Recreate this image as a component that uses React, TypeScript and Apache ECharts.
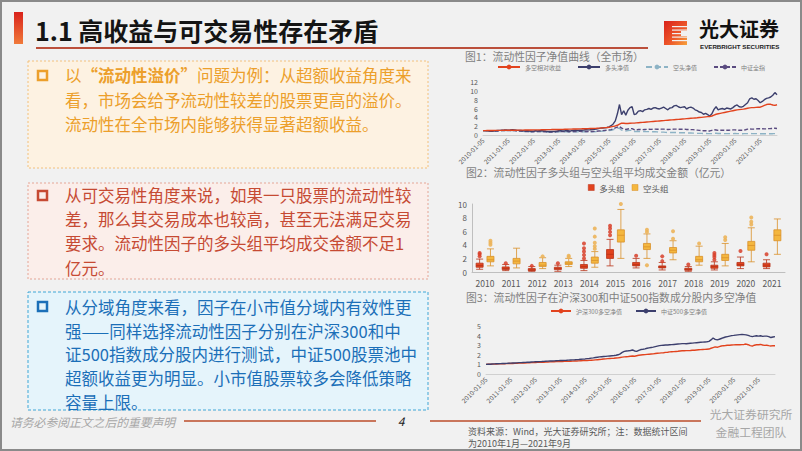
import React, { useEffect, useRef } from 'react';
import * as echarts from 'echarts';

const FONT = '"Noto Sans CJK SC", "Noto Sans", sans-serif';

// ---------- categories ----------
const dates: string[] = [];
for (let y = 2010; y <= 2021; y++) {
  for (let m = 1; m <= 12; m++) {
    if (y === 2021 && m > 9) break;
    dates.push(`${y}-${String(m).padStart(2, '0')}-05`);
  }
}
const boxYears = ['2010', '2011', '2012', '2013', '2014', '2015', '2016', '2017', '2018', '2019', '2020', '2021'];

// ---------- chart 1: 全市场 (monthly) ----------
const longShortRel = [
  1.00, 1.00, 1.01, 1.02, 1.03, 1.03, 1.04, 1.04, 1.05, 1.05, 1.06, 1.06,
  1.07, 1.07, 1.08, 1.08, 1.09, 1.10, 1.10, 1.11, 1.12, 1.12, 1.13, 1.14,
  1.15, 1.15, 1.16, 1.17, 1.18, 1.19, 1.20, 1.21, 1.22, 1.23, 1.24, 1.25,
  1.26, 1.27, 1.28, 1.30, 1.31, 1.32, 1.33, 1.35, 1.36, 1.37, 1.39, 1.40,
  1.42, 1.43, 1.45, 1.47, 1.48, 1.50, 1.52, 1.55, 1.58, 1.62, 1.66, 1.70,
  1.75, 1.85, 1.95, 2.05, 2.20, 2.45, 2.70, 2.65, 2.60, 2.62, 2.65, 2.68,
  2.70, 2.74, 2.78, 2.82, 2.86, 2.90, 2.94, 2.98, 3.02, 3.06, 3.10, 3.14,
  3.18, 3.22, 3.26, 3.30, 3.34, 3.38, 3.42, 3.46, 3.50, 3.54, 3.58, 3.62,
  3.66, 3.70, 3.74, 3.78, 3.82, 3.86, 3.90, 3.95, 4.00, 4.05, 4.10, 4.15,
  4.20, 4.30, 4.50, 4.70, 4.80, 4.90, 5.00, 5.10, 5.20, 5.30, 5.40, 5.50,
  5.60, 5.70, 5.75, 5.80, 5.85, 5.95, 6.05, 6.15, 6.20, 6.20, 6.25, 6.30,
  6.30, 6.50, 6.70, 6.90, 7.00, 6.95, 6.80, 6.70, 6.85,
];
const longNav = [
  1.00, 0.98, 0.95, 0.90, 0.88, 0.92, 0.98, 1.02, 1.05, 1.10, 1.12, 1.15,
  1.10, 1.12, 1.18, 1.15, 1.08, 1.05, 1.02, 0.98, 0.92, 0.95, 0.90, 0.85,
  0.88, 0.95, 0.90, 0.95, 0.98, 0.92, 0.85, 0.80, 0.82, 0.80, 0.78, 0.88,
  0.95, 0.98, 0.92, 0.95, 1.02, 0.90, 0.95, 1.02, 1.08, 1.05, 1.10, 1.08,
  1.12, 1.20, 1.15, 1.18, 1.22, 1.28, 1.35, 1.45, 1.55, 1.60, 1.65, 1.70,
  1.85, 2.10, 2.50, 3.20, 4.80, 6.90, 4.60, 5.50, 4.50, 5.60, 6.20, 6.40,
  4.60, 4.80, 5.40, 5.50, 5.30, 5.70, 5.80, 6.00, 5.80, 6.10, 6.20, 6.00,
  5.90, 6.10, 6.30, 6.00, 5.70, 6.10, 6.20, 6.60, 6.70, 6.40, 6.20, 6.30,
  6.40, 5.90, 6.20, 6.30, 6.10, 5.70, 5.50, 5.20, 5.10, 4.70, 4.90, 4.60,
  4.30, 4.80, 5.80, 6.40, 5.70, 5.90, 6.00, 5.80, 6.10, 6.00, 5.90, 6.20,
  6.60, 6.80, 6.40, 6.30, 6.50, 6.90, 7.30, 8.20, 8.40, 8.10, 8.20, 7.80,
  7.30, 7.60, 8.00, 8.30, 8.40, 8.60, 9.00, 9.60, 9.10,
];
const shortNav = [
  0.98, 0.96, 0.92, 0.88, 0.85, 0.86, 0.90, 0.92, 0.94, 0.98, 1.00, 1.02,
  1.00, 1.02, 1.05, 1.02, 0.96, 0.92, 0.90, 0.86, 0.80, 0.82, 0.78, 0.74,
  0.76, 0.80, 0.76, 0.78, 0.80, 0.74, 0.68, 0.64, 0.64, 0.62, 0.60, 0.68,
  0.72, 0.74, 0.70, 0.70, 0.75, 0.66, 0.68, 0.72, 0.75, 0.72, 0.74, 0.72,
  0.72, 0.76, 0.72, 0.72, 0.74, 0.75, 0.78, 0.82, 0.86, 0.88, 0.92, 0.95,
  1.00, 1.08, 1.20, 1.38, 1.50, 1.55, 1.10, 1.05, 0.90, 1.00, 1.05, 1.05,
  0.80, 0.78, 0.82, 0.80, 0.78, 0.78, 0.76, 0.76, 0.74, 0.74, 0.72, 0.70,
  0.66, 0.66, 0.64, 0.60, 0.56, 0.56, 0.55, 0.56, 0.55, 0.52, 0.50, 0.50,
  0.50, 0.46, 0.46, 0.45, 0.43, 0.40, 0.38, 0.37, 0.36, 0.34, 0.34, 0.32,
  0.30, 0.33, 0.38, 0.38, 0.34, 0.33, 0.33, 0.32, 0.32, 0.31, 0.31, 0.32,
  0.33, 0.32, 0.30, 0.30, 0.30, 0.31, 0.32, 0.33, 0.32, 0.31, 0.31, 0.30,
  0.30, 0.30, 0.29, 0.29, 0.30, 0.30, 0.30, 0.31, 0.30,
];
const csiAll = [
  1.00, 0.98, 0.98, 0.90, 0.85, 0.82, 0.88, 0.92, 0.94, 1.02, 1.00, 1.00,
  0.98, 1.02, 1.02, 0.98, 0.92, 0.92, 0.90, 0.86, 0.78, 0.80, 0.78, 0.72,
  0.74, 0.80, 0.76, 0.78, 0.78, 0.74, 0.70, 0.67, 0.68, 0.68, 0.68, 0.76,
  0.80, 0.80, 0.76, 0.76, 0.82, 0.74, 0.76, 0.80, 0.82, 0.80, 0.82, 0.80,
  0.78, 0.80, 0.78, 0.78, 0.80, 0.82, 0.86, 0.90, 0.94, 0.98, 1.04, 1.10,
  1.15, 1.22, 1.40, 1.60, 1.80, 1.95, 1.55, 1.40, 1.25, 1.35, 1.45, 1.45,
  1.20, 1.15, 1.25, 1.25, 1.22, 1.25, 1.28, 1.30, 1.28, 1.32, 1.32, 1.30,
  1.30, 1.32, 1.32, 1.28, 1.24, 1.28, 1.28, 1.32, 1.34, 1.32, 1.30, 1.30,
  1.32, 1.26, 1.26, 1.22, 1.22, 1.14, 1.10, 1.04, 1.02, 0.96, 0.98, 0.92,
  0.92, 1.05, 1.18, 1.14, 1.06, 1.08, 1.08, 1.06, 1.08, 1.08, 1.10, 1.15,
  1.16, 1.10, 1.06, 1.08, 1.10, 1.20, 1.32, 1.36, 1.32, 1.34, 1.38, 1.42,
  1.40, 1.40, 1.38, 1.40, 1.44, 1.46, 1.50, 1.52, 1.48,
];

// ---------- chart 2: 成交金额 boxplots [min, Q1, median, Q3, max] ----------
const longBox = [
  [0.4, 0.7, 0.95, 1.3, 1.9],
  [0.2, 0.35, 0.5, 0.75, 1.1],
  [0.1, 0.2, 0.3, 0.5, 0.8],
  [0.1, 0.35, 0.5, 0.7, 1.0],
  [0.2, 0.55, 0.8, 1.1, 1.7],
  [0.9, 2.0, 2.6, 3.3, 4.8],
  [0.6, 0.9, 1.1, 1.4, 2.0],
  [0.3, 0.6, 0.75, 0.9, 1.4],
  [0.1, 0.25, 0.4, 0.55, 0.8],
  [0.3, 0.55, 0.8, 1.0, 1.5],
  [0.5, 0.9, 1.1, 1.4, 2.2],
  [0.5, 0.75, 1.0, 1.3, 1.8],
];
const shortBox = [
  [0.9, 1.5, 1.8, 2.3, 3.4],
  [0.6, 1.2, 1.6, 2.0, 3.5],
  [0.5, 0.8, 1.0, 1.4, 2.1],
  [0.8, 1.1, 1.3, 1.5, 2.0],
  [0.7, 1.3, 1.7, 2.2, 3.0],
  [2.0, 4.4, 5.4, 6.2, 9.2],
  [2.0, 3.3, 3.7, 4.2, 5.6],
  [1.8, 2.8, 3.2, 3.6, 4.6],
  [1.0, 1.5, 1.8, 2.3, 3.8],
  [0.9, 1.7, 2.1, 2.6, 4.2],
  [1.5, 3.2, 3.9, 4.5, 6.5],
  [2.6, 4.6, 5.4, 6.2, 7.8],
];
const longOutliers = [
  [0, 2.3], [0, 2.6], [0, 2.8], [1, 1.3], [2, 0.9], [3, 1.3],
  [4, 2.0], [4, 2.5], [4, 3.0], [4, 3.5], [4, 4.2],
  [5, 5.4], [5, 5.9], [5, 6.4], [5, 6.8], [6, 2.4], [7, 1.6], [7, 2.3],
  [8, 1.1], [9, 1.8], [9, 2.2], [9, 2.5], [9, 2.8], [10, 3.1], [11, 2.6],
];
const shortOutliers = [
  [0, 4.0], [0, 4.3], [0, 4.6], [2, 2.3], [3, 2.2], [3, 2.4],
  [4, 3.4], [4, 3.8], [4, 4.3], [4, 5.2], [4, 6.4], [5, 10.0],
  [6, 1.0], [6, 5.9], [6, 6.2], [7, 4.9], [7, 6.0], [8, 4.2],
  [9, 4.7], [9, 5.1], [10, 7.0], [10, 7.4], [10, 8.0],
];

// ---------- chart 3: 沪深300 / 中证500 (monthly) ----------
const hs300 = [
  1.00, 1.01, 1.02, 1.03, 1.03, 1.04, 1.05, 1.06, 1.06, 1.07, 1.08, 1.09,
  1.10, 1.10, 1.11, 1.12, 1.13, 1.13, 1.14, 1.15, 1.16, 1.17, 1.18, 1.19,
  1.20, 1.21, 1.21, 1.22, 1.23, 1.24, 1.25, 1.26, 1.27, 1.28, 1.29, 1.29,
  1.30, 1.30, 1.31, 1.32, 1.32, 1.33, 1.34, 1.35, 1.36, 1.37, 1.38, 1.39,
  1.40, 1.41, 1.42, 1.44, 1.45, 1.47, 1.49, 1.51, 1.53, 1.56, 1.58, 1.60,
  1.62, 1.63, 1.64, 1.66, 1.68, 1.72, 1.76, 1.78, 1.80, 1.82, 1.85, 1.88,
  1.85, 1.90, 1.95, 1.98, 2.00, 2.02, 2.04, 2.06, 2.08, 2.10, 2.13, 2.16,
  2.18, 2.20, 2.22, 2.25, 2.27, 2.30, 2.32, 2.33, 2.35, 2.37, 2.40, 2.42,
  2.42, 2.43, 2.44, 2.45, 2.47, 2.48, 2.50, 2.52, 2.54, 2.55, 2.56, 2.58,
  2.60, 2.68, 2.75, 2.82, 2.78, 2.85, 2.92, 2.95, 2.97, 3.00, 3.00, 3.02,
  3.03, 3.04, 3.05, 3.05, 3.06, 3.08, 3.12, 3.05, 2.95, 2.90, 3.00, 3.05,
  3.05, 3.08, 3.02, 2.98, 3.00, 2.95, 2.92, 2.95, 2.95,
];
const csi500 = [
  1.00, 1.01, 1.02, 1.04, 1.05, 1.06, 1.07, 1.08, 1.09, 1.10, 1.11, 1.12,
  1.13, 1.14, 1.15, 1.16, 1.18, 1.19, 1.20, 1.21, 1.22, 1.23, 1.25, 1.26,
  1.27, 1.28, 1.29, 1.30, 1.32, 1.33, 1.34, 1.35, 1.36, 1.37, 1.38, 1.39,
  1.40, 1.41, 1.42, 1.43, 1.45, 1.46, 1.47, 1.48, 1.50, 1.51, 1.53, 1.55,
  1.57, 1.60, 1.62, 1.65, 1.68, 1.72, 1.75, 1.78, 1.80, 1.82, 1.84, 1.86,
  1.88, 1.90, 1.92, 1.95, 2.00, 2.10, 2.25, 2.35, 2.40, 2.42, 2.45, 2.50,
  2.40, 2.35, 2.45, 2.55, 2.58, 2.62, 2.68, 2.72, 2.76, 2.80, 2.85, 2.90,
  2.95, 2.98, 3.00, 3.02, 3.02, 3.04, 3.06, 3.08, 3.10, 3.12, 3.14, 3.16,
  3.16, 3.15, 3.18, 3.20, 3.22, 3.24, 3.26, 3.28, 3.30, 3.32, 3.34, 3.36,
  3.40, 3.55, 3.75, 3.60, 3.55, 3.62, 3.70, 3.78, 3.85, 3.90, 3.95, 4.00,
  4.02, 4.05, 4.08, 4.10, 4.12, 4.10, 4.08, 4.02, 3.95, 3.90, 3.95, 3.98,
  3.95, 3.98, 3.92, 3.95, 3.95, 3.90, 3.80, 3.85, 3.90,
];

// ---------- slide texts ----------
const slideTitle = '1.1 高收益与可交易性存在矛盾';
const box1Lines = [
  '以{b|“流动性溢价”}问题为例：从超额收益角度来',
  '看，市场会给予流动性较差的股票更高的溢价。',
  '流动性在全市场内能够获得显著超额收益。',
];
const box2Lines = [
  '从可交易性角度来说，如果一只股票的流动性较',
  '差，那么其交易成本也较高，甚至无法满足交易',
  '要求。流动性因子的多头组平均成交金额不足1',
  '亿元。',
];
const box3Lines = [
  '从分域角度来看，因子在小市值分域内有效性更',
  '强——同样选择流动性因子分别在沪深300和中',
  '证500指数成分股内进行测试，中证500股票池中',
  '超额收益更为明显。小市值股票较多会降低策略',
  '容量上限。',
];

const RED = '#e2431e';
const NAVY = '#3c3f6d';

function lineTexts(lines: string[], x: number, y0: number, dy: number, color: string) {
  return lines.map((t, i) => ({
    type: 'text',
    x,
    y: y0 + i * dy,
    style: {
      text: t,
      fill: color,
      fontSize: 16.5,
      lineHeight: 18,
      fontFamily: FONT,
      verticalAlign: 'middle',
      rich: { b: { fill: color, fontSize: 16.5, lineHeight: 18, fontFamily: FONT, fontWeight: 'bold' } },
    },
  }));
}

function dateAxis(gridIndex: number) {
  return {
    type: 'category',
    gridIndex,
    data: dates,
    boundaryGap: false,
    axisLine: { lineStyle: { color: '#d0d0d0' } },
    axisTick: { show: false },
    axisLabel: {
      rotate: 45,
      fontSize: 6.5,
      color: '#595959',
      fontFamily: FONT,
      margin: 4,
      interval: (idx: number) => idx % 12 === 0,
    },
    splitLine: { show: false },
  };
}

function valueAxis(gridIndex: number, max: number, interval: number, fs: number, showLine: boolean) {
  return {
    type: 'value',
    gridIndex,
    min: 0,
    max,
    interval,
    axisLine: { show: showLine, lineStyle: { color: '#bfbfbf' } },
    axisTick: { show: false },
    axisLabel: { fontSize: fs, color: '#595959', fontFamily: FONT, margin: 5 },
    splitLine: { show: false },
  };
}

export default function App() {
  const ref = useRef<HTMLDivElement>(null);
  useEffect(() => {
    if (!ref.current) return;
    const chart = echarts.init(ref.current, null, { renderer: 'svg' });

    const titleStyle = { fontSize: 10.8, lineHeight: 12, color: '#7f7f7f', fontWeight: 'normal', fontFamily: FONT };
    const legendText = { fontSize: 6, color: '#7f7f7f', fontFamily: FONT };

    const logoStripes = [26, 29.5, 33, 36.5, 40].map((yy) => ({
      type: 'rect',
      shape: { x: 672, y: yy, width: 16, height: 1.2 },
      style: { fill: '#f1f1f1' },
      z: 11,
    }));

    const option: any = {
      animation: false,
      backgroundColor: '#f1f1f1',
      textStyle: { fontFamily: FONT },
      title: [
        { text: '图1：流动性因子净值曲线（全市场）', left: 465, top: 50, padding: 0, textStyle: titleStyle },
        { text: '图2：流动性因子多头组与空头组平均成交金额（亿元）', left: 466, top: 166, padding: 0, textStyle: titleStyle },
        { text: '图3：流动性因子在沪深300和中证500指数成分股内多空净值', left: 466, top: 291, padding: 0, textStyle: titleStyle },
      ],
      legend: [
        {
          data: ['多空相对收益', '多头净值', '空头净值', '中证全指'],
          left: 497, top: 64, padding: 0, itemWidth: 22, itemHeight: 6, itemGap: 16,
          textStyle: legendText,
        },
        {
          data: [
            { name: '多头组', itemStyle: { color: RED, borderColor: '#b83218', borderWidth: 0.5 } },
            { name: '空头组', itemStyle: { color: '#f4b73f', borderColor: '#d9902a', borderWidth: 0.5 } },
          ],
          icon: 'rect',
          left: 588, top: 183, padding: 0, itemWidth: 6, itemHeight: 6, itemGap: 7,
          textStyle: { fontSize: 8.5, lineHeight: 9, color: '#595959', fontFamily: FONT },
        },
        {
          data: ['沪深300多空净值', '中证500多空净值'],
          left: 550, top: 308, padding: 0, itemWidth: 20, itemHeight: 6, itemGap: 13,
          textStyle: legendText,
        },
      ],
      grid: [
        { left: 483, right: 25, top: 82, height: 53 },
        { left: 472, right: 17, top: 204, height: 68 },
        { left: 486, right: 27, top: 326, height: 48 },
      ],
      xAxis: [
        dateAxis(0),
        {
          type: 'category',
          gridIndex: 1,
          data: boxYears,
          axisLine: { lineStyle: { color: '#bfbfbf' } },
          axisTick: { show: false },
          axisLabel: { fontSize: 8.5, color: '#595959', fontFamily: FONT, margin: 7 },
        },
        dateAxis(2),
      ],
      yAxis: [
        valueAxis(0, 12, 2, 7, false),
        valueAxis(1, 10, 2, 8, true),
        valueAxis(2, 5, 1, 7, false),
      ],
      series: [
        { name: '多空相对收益', type: 'line', xAxisIndex: 0, yAxisIndex: 0, data: longShortRel, symbol: 'none', lineStyle: { color: RED, width: 1.4 }, itemStyle: { color: RED }, z: 4 },
        { name: '多头净值', type: 'line', xAxisIndex: 0, yAxisIndex: 0, data: longNav, symbol: 'none', lineStyle: { color: NAVY, width: 1.4 }, itemStyle: { color: NAVY }, z: 3 },
        { name: '空头净值', type: 'line', xAxisIndex: 0, yAxisIndex: 0, data: shortNav, symbol: 'none', lineStyle: { color: '#8db3c5', width: 1.4, type: [6, 3] }, itemStyle: { color: '#8db3c5' }, z: 2 },
        { name: '中证全指', type: 'line', xAxisIndex: 0, yAxisIndex: 0, data: csiAll, symbol: 'none', lineStyle: { color: '#5a4b80', width: 1.4, type: [4, 2] }, itemStyle: { color: '#5a4b80' }, z: 2 },
        {
          name: '多头组', type: 'boxplot', xAxisIndex: 1, yAxisIndex: 1, data: longBox, boxWidth: [6, 7],
          itemStyle: { color: RED, borderColor: '#b83218', borderWidth: 0.8 },
        },
        {
          name: '空头组', type: 'boxplot', xAxisIndex: 1, yAxisIndex: 1, data: shortBox, boxWidth: [6, 7],
          itemStyle: { color: '#f4b73f', borderColor: '#d9902a', borderWidth: 0.8 },
        },
        {
          name: '多头组异常值', type: 'scatter', xAxisIndex: 1, yAxisIndex: 1, data: longOutliers,
          symbolSize: 4, symbolOffset: [-5.4, 0], itemStyle: { color: '#d8402a', opacity: 0.85 },
        },
        {
          name: '空头组异常值', type: 'scatter', xAxisIndex: 1, yAxisIndex: 1, data: shortOutliers,
          symbolSize: 4, symbolOffset: [5.4, 0], itemStyle: { color: '#ecb45a', opacity: 0.9 },
        },
        { name: '沪深300多空净值', type: 'line', xAxisIndex: 2, yAxisIndex: 2, data: hs300, symbol: 'none', lineStyle: { color: RED, width: 1.4 }, itemStyle: { color: RED } },
        { name: '中证500多空净值', type: 'line', xAxisIndex: 2, yAxisIndex: 2, data: csi500, symbol: 'none', lineStyle: { color: NAVY, width: 1.4 }, itemStyle: { color: NAVY } },
      ],
      graphic: [
        // frame
        { type: 'rect', shape: { x: 1, y: 1, width: 800, height: 449 }, style: { fill: 'none', stroke: '#8a8a8a', lineWidth: 2 }, z: 20 },
        // title bar
        {
          type: 'rect', shape: { x: 14, y: 12, width: 9, height: 32 },
          style: { fill: new echarts.graphic.LinearGradient(0, 0, 0, 1, [{ offset: 0, color: '#d9221b' }, { offset: 1, color: '#f07a3a' }]) },
        },
        { type: 'text', x: 35, y: 30, style: { text: slideTitle, fill: '#141414', fontSize: 25, fontWeight: 'bold', fontFamily: FONT, verticalAlign: 'middle' } },
        { type: 'line', shape: { x1: 36, y1: 48, x2: 648, y2: 48 }, style: { stroke: '#bb4f3b', lineWidth: 2 } },
        // logo
        {
          type: 'rect', shape: { x: 664, y: 21, width: 23, height: 24 },
          style: { fill: new echarts.graphic.LinearGradient(0, 0, 1, 1, [{ offset: 0, color: '#d9221b' }, { offset: 0.6, color: '#ee5a2a' }, { offset: 1, color: '#f7a23a' }]) },
          z: 10,
        },
        ...logoStripes,
        { type: 'rect', shape: { x: 681, y: 31, width: 7, height: 5 }, style: { fill: '#f1f1f1' }, z: 11 },
        { type: 'text', x: 699, y: 28, style: { text: '光大证券', fill: '#111', fontSize: 20, lineHeight: 20, fontWeight: 'bold', fontFamily: FONT, verticalAlign: 'middle' } },
        { type: 'text', x: 700, y: 46, style: { text: 'EVERBRIGHT SECURITIES', fill: '#222', fontSize: 6.2, lineHeight: 7, fontWeight: 'bold', fontFamily: '"Liberation Sans", Arial, sans-serif', verticalAlign: 'middle' } },
        // box 1
        { type: 'rect', shape: { x: 28, y: 61, width: 400, height: 107 }, style: { fill: '#fdf2e2', stroke: '#f2c07c', lineWidth: 1, lineDash: [2, 2] } },
        { type: 'rect', shape: { x: 38, y: 71, width: 9, height: 9 }, style: { fill: 'none', stroke: '#ec9f2b', lineWidth: 2.5 } },
        ...lineTexts(box1Lines, 65, 75, 24.5, '#ec9f2b'),
        // box 2
        { type: 'rect', shape: { x: 28, y: 183, width: 400, height: 96 }, style: { fill: '#fbeeea', stroke: '#e4a596', lineWidth: 1, lineDash: [2, 2] } },
        { type: 'rect', shape: { x: 38, y: 191, width: 9, height: 9 }, style: { fill: 'none', stroke: '#c64a33', lineWidth: 2.5 } },
        ...lineTexts(box2Lines, 65, 195, 24.2, '#c64a33'),
        // box 3
        { type: 'rect', shape: { x: 28, y: 292, width: 400, height: 118 }, style: { fill: '#e5f4fb', stroke: '#3fa6d6', lineWidth: 1, lineDash: [3, 2] } },
        { type: 'rect', shape: { x: 38, y: 302, width: 9, height: 9 }, style: { fill: 'none', stroke: '#1b6fb8', lineWidth: 2.5 } },
        ...lineTexts(box3Lines, 65, 307, 23.7, '#1b6fb8'),
        // footer
        { type: 'text', x: 10, y: 421, style: { text: '请务必参阅正文之后的重要声明', fill: '#a6a6a6', fontSize: 11.8, lineHeight: 12, fontStyle: 'italic', fontFamily: FONT, verticalAlign: 'middle' } },
        { type: 'line', shape: { x1: 184, y1: 421, x2: 376, y2: 421 }, style: { stroke: '#c9765c', lineWidth: 2 } },
        { type: 'text', x: 401, y: 420, style: { text: '4', fill: '#222', fontSize: 12, lineHeight: 12, fontStyle: 'italic', fontFamily: FONT, align: 'center', verticalAlign: 'middle' } },
        { type: 'line', shape: { x1: 430, y1: 421, x2: 701, y2: 421 }, style: { stroke: '#c9765c', lineWidth: 2 } },
        { type: 'text', x: 468, y: 431, style: { text: '资料来源：Wind，光大证券研究所；注：数据统计区间', fill: '#595959', fontSize: 9, lineHeight: 10, fontFamily: FONT, verticalAlign: 'middle' } },
        { type: 'text', x: 468, y: 443, style: { text: '为2010年1月—2021年9月', fill: '#595959', fontSize: 9, lineHeight: 10, fontFamily: FONT, verticalAlign: 'middle' } },
        { type: 'text', x: 751, y: 413, style: { text: '光大证券研究所', fill: '#a6a6a6', fontSize: 11.8, lineHeight: 13, fontFamily: FONT, align: 'center', verticalAlign: 'middle' } },
        { type: 'text', x: 751, y: 431, style: { text: '金融工程团队', fill: '#a6a6a6', fontSize: 11.8, lineHeight: 13, fontFamily: FONT, align: 'center', verticalAlign: 'middle' } },
      ],
    };
    chart.setOption(option);
    return () => chart.dispose();
  }, []);
  return <div ref={ref} style={{ position: 'fixed', left: 0, top: 0, width: 802, height: 451 }} />;
}
